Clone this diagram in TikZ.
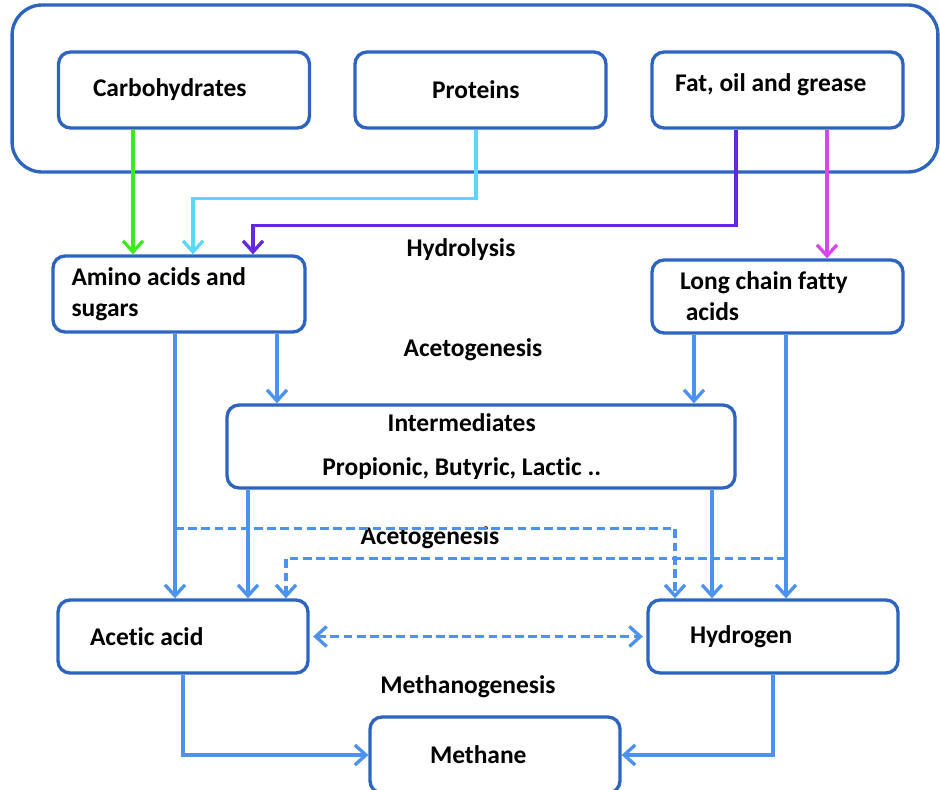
\documentclass[tikz,border=0pt]{standalone}
\usepackage{fontspec}
\setmainfont{Carlito}[Ligatures=NoCommon]
\usetikzlibrary{calc}
\usetikzlibrary{arrows.meta}
\definecolor{boxblue}{RGB}{44,100,190}
\definecolor{flowblue}{RGB}{76,146,240}
\definecolor{carbgreen}{RGB}{60,235,30}
\definecolor{protcyan}{RGB}{90,215,250}
\definecolor{fatpurple}{RGB}{100,40,225}
\definecolor{fatpink}{RGB}{215,70,235}
\tikzstyle{stage}=[draw=boxblue, line width=1.9pt, rounded corners=2.4mm, minimum width=5.02cm, minimum height=1.52cm, inner sep=0pt, font=\bfseries\fontsize{14.5}{17.5}\selectfont]
\tikzstyle{phase}=[inner sep=0pt, font=\bfseries\fontsize{14.5}{17.5}\selectfont]
\tikzstyle{feed}=[line width=1.9pt, -{Straight Barb[length=2.2mm,width=4mm]}]
\tikzstyle{flow}=[feed, draw=flowblue]
\tikzstyle{sideflow}=[flow, dash pattern=on 5pt off 2.5pt]

\begin{document}
\begin{tikzpicture}[x=0.02cm, y=-0.02cm]
	\useasboundingbox (0,0) rectangle (940,790);
	% substrates
	\node[draw=boxblue, line width=1.9pt, rounded corners=6mm, minimum width=18.52cm, minimum height=3.34cm] (substrates) at (475,88.5) {};
	\node[stage, text width=3.64cm, align=flush left] (carb) at (184,90) {Carbohydrates};
	\node[stage, text width=1.94cm, align=flush left] (prot) at (480.5,90) {Proteins};
	\node[stage, text width=4.1cm, align=flush left] (fat) at (777.5,90) {\raisebox{8pt}{Fat, oil and grease}};
	% hydrolysis products
	\node[stage, minimum width=5.04cm, text width=4.3cm, align=flush left] (amino) at (179,294) {Amino acids and\\sugars};
	\node[stage, minimum height=1.46cm, text width=3.9cm, align=flush left] (lcfa) at (777.5,296.5) {Long chain fatty\\ \ acids};
	\node[stage, minimum width=10.16cm, minimum height=1.66cm, align=center] (inter) at (481,446.5) {\hspace*{-22pt}Intermediates\\[8pt]\hspace*{-22pt}Propionic, Butyric, Lactic ..};
	\node[stage, minimum width=5cm, minimum height=1.46cm, text width=3.72cm, align=flush left] (acetic) at (183,636.5) {Acetic acid};
	\node[stage, minimum width=5cm, minimum height=1.46cm, text width=3.32cm, align=flush left] (hyd) at (773,636.5) {Hydrogen};
	\node[stage, minimum width=5cm, text width=2.6cm, align=flush left] (methane) at (495,755) {Methane};
	% phases
	\node[phase] (hydrolysis) at (461,250) {Hydrolysis};
	\node[phase] (acetogen) at (473,350) {Acetogenesis};
	\node[phase] (acetogenb) at (430,538) {Acetogenesis};
	\node[phase] (methanogen) at (468,687) {Methanogenesis};

	\draw[feed, carbgreen] ($(carb.south)+(-51,0)$) -- ($(amino.north)+(-46,0)$);
	\draw[feed, protcyan] ($(prot.south)+(-4.5,0)$) -- ++(0,69) -| ($(amino.north)+(14,0)$);
	\draw[feed, fatpurple] ($(fat.south)+(-41.5,0)$) -- ++(0,96) -| ($(amino.north)+(74,0)$);
	\draw[feed, fatpink] ($(fat.south)+(49.5,0)$) -- ($(lcfa.north)+(49.5,0)$);

	\draw[flow] ($(amino.south)+(98,0)$) coordinate (a1) -- (a1 |- inter.north);
	\draw[flow] ($(lcfa.south)+(-83.5,0)$) coordinate (l1) -- (l1 |- inter.north);
	\draw[flow] ($(amino.south)+(-4,0)$) coordinate (a2) -- (a2 |- acetic.north);
	\draw[flow] ($(inter.south)+(-233,0)$) coordinate (i1) -- (i1 |- acetic.north);
	\draw[flow] ($(inter.south)+(231,0)$) coordinate (i2) -- (i2 |- hyd.north);
	\draw[flow] ($(lcfa.south)+(8.5,0)$) coordinate (l2) -- (l2 |- hyd.north);
	\draw[sideflow] ($(a2)+(0,195)$) -| ($(hyd.north)+(-98,0)$);
	\draw[sideflow] ($(l2)+(0,224)$) -| ($(acetic.north)+(103,0)$);
	\draw[sideflow, {Straight Barb[length=2.2mm,width=4mm]}-{Straight Barb[length=2.2mm,width=4mm]}, shorten <=2pt, shorten >=2pt] (acetic.east) -- (hyd.west);

	\draw[flow] (acetic.south) |- (methane.west);
	\draw[flow] (hyd.south) |- (methane.east);
\end{tikzpicture}
\end{document}
